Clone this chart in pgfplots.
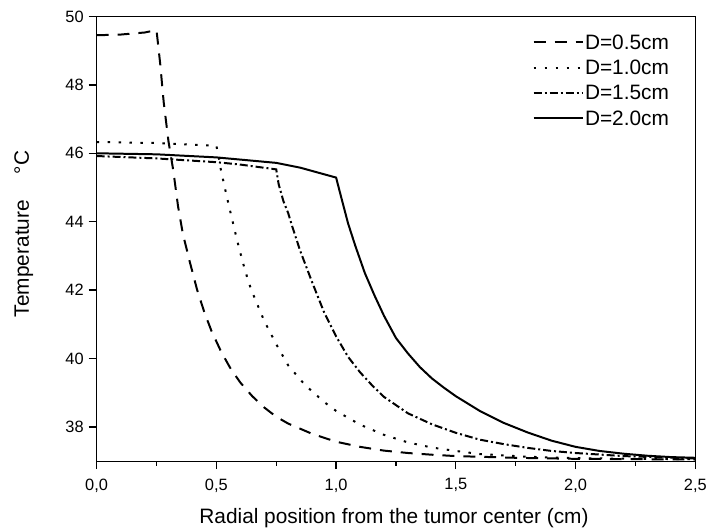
\documentclass[border=0pt]{standalone}
\usepackage{fontspec}
\setmainfont{Liberation Sans}
\usepackage{pgfplots}
\pgfplotsset{compat=1.18}

% Radial temperature profiles for four tumour diameters
\pgfplotstableread{
x     T
0.00  49.45
0.10  49.47
0.20  49.53
0.25  49.60
0.265 48.65
0.28  47.50
0.30  46.35
0.32  45.50
0.34  44.45
0.36  43.65
0.39  42.80
0.42  42.00
0.45  41.35
0.48  40.80
0.52  40.20
0.56  39.70
0.60  39.30
0.65  38.90
0.70  38.57
0.75  38.30
0.80  38.10
0.90  37.80
1.00  37.57
1.10  37.42
1.20  37.31
1.30  37.24
1.40  37.19
1.50  37.15
1.75  37.10
2.00  37.07
2.25  37.06
2.50  37.05
}\dA

\pgfplotstableread{
x     T
0.00  46.33
0.25  46.30
0.50  46.22
0.51  45.90
0.518 45.55
0.535 45.00
0.553 44.45
0.575 43.80
0.594 43.25
0.615 42.70
0.636 42.20
0.661 41.75
0.70  41.10
0.75  40.42
0.80  39.80
0.87  39.23
0.95  38.73
1.00  38.47
1.10  38.07
1.20  37.77
1.30  37.55
1.40  37.40
1.50  37.30
1.60  37.21
1.80  37.13
2.00  37.09
2.25  37.07
2.50  37.06
}\dB

\pgfplotstableread{
x     T
0.00  45.92
0.25  45.85
0.50  45.74
0.60  45.67
0.75  45.53
0.76  45.10
0.78  44.60
0.80  44.25
0.816 43.88
0.85  43.15
0.90  42.23
0.95  41.35
1.00  40.65
1.05  40.05
1.10  39.60
1.15  39.22
1.20  38.88
1.30  38.40
1.40  38.08
1.50  37.83
1.60  37.63
1.70  37.50
1.80  37.39
1.90  37.30
2.00  37.24
2.20  37.15
2.50  37.08
}\dC

\pgfplotstableread{
x     T
0.00  46.00
0.25  45.97
0.50  45.88
0.75  45.72
0.85  45.58
1.00  45.29
1.02  44.75
1.05  43.95
1.08  43.30
1.12  42.50
1.16  41.85
1.20  41.25
1.25  40.60
1.30  40.15
1.35  39.75
1.40  39.42
1.45  39.15
1.50  38.90
1.60  38.47
1.70  38.12
1.80  37.84
1.90  37.60
2.00  37.42
2.10  37.30
2.20  37.22
2.30  37.16
2.40  37.12
2.50  37.10
}\dD

\begin{document}
\begin{tikzpicture}
\begin{axis}[
  name=ax,
  scale only axis,
  width=601bp, height=446.5bp,
  xmin=0, xmax=2.5, ymin=37, ymax=50,
  axis line style={line width=1.3bp},
  xtick={0,0.5,...,2.5},
  ytick={38,40,...,50},
  minor x tick num=1,
  minor y tick num=0,
  tick align=outside,
  xtick pos=bottom, ytick pos=left,
  major tick length=8bp, minor tick length=4.5bp,
  every tick/.style={line width=1.3bp, black},
  xticklabel style={yshift=-6bp, /pgf/number format/.cd, fixed, fixed zerofill, precision=1, use comma},
  yticklabel style={xshift=-1.5bp},
  /pgf/number format/assume math mode=true,
  tick label style={font=\fontsize{16.5}{19}\selectfont},
  label style={font=\fontsize{21}{25}\selectfont},
  xlabel={Radial position from the tumor center (cm)},
  ylabel={Temperature\hspace{26bp}°C},
  xlabel style={at={(axis description cs:0.4967,-0.1389)}, anchor=base},
  ylabel style={at={(axis description cs:-0.1215,0.511)}, rotate=0, anchor=center},
  legend style={draw=none, fill=none, inner sep=0pt, outer sep=0pt,
    at={(axis description cs:0.7284,0.96)}, anchor=north west,
    font=\fontsize{21}{25}\selectfont, row sep=6.5bp, column sep=0pt,
    nodes={inner xsep=1.5bp, inner ysep=0pt, text height=15bp, text depth=4bp,
      font=\fontsize{21}{25}\selectfont}},
  legend cell align=left,
  legend image code/.code={\draw[#1] (0bp,1.5bp) -- (49bp,1.5bp);},
  every axis plot/.append style={line width=2bp, black},
]
\addplot[dash pattern=on 12bp off 9bp] table {\dA};
\addlegendentry{D=0.5cm}
\addplot[dash pattern=on 2.5bp off 8.5bp] table {\dB};
\addlegendentry{D=1.0cm}
\addplot[dash pattern=on 8bp off 3bp on 2bp off 3bp] table {\dC};
\addlegendentry{D=1.5cm}
\addplot[solid] table {\dD};
\addlegendentry{D=2.0cm}
\end{axis}
\path[use as bounding box] ([shift={(-97bp,-68bp)}]ax.south west) rectangle ([shift={(12bp,16.5bp)}]ax.north east);
\end{tikzpicture}
\end{document}
